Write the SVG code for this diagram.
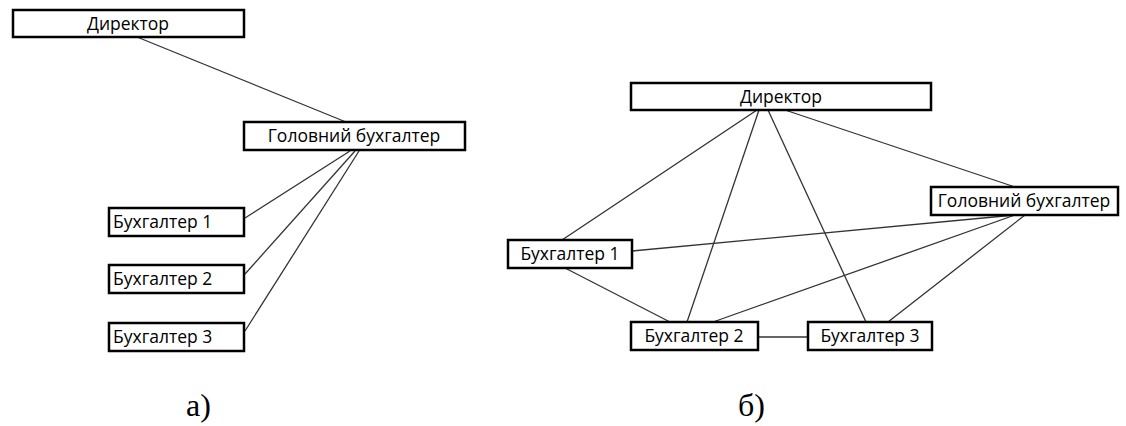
<svg xmlns="http://www.w3.org/2000/svg" width="1126" height="426" viewBox="0 0 1126 426">
<style>
.box{fill:#fff;stroke:#000;stroke-width:2.5}
.t{font-family:"Open Sans","Liberation Sans",sans-serif;font-size:17.5px;fill:#000}
.c{text-anchor:middle}
.edge{stroke:#333;stroke-width:1.3;fill:none}
.lab{font-family:"Liberation Serif",serif;font-size:32px;fill:#000}
</style>
<rect width="1126" height="426" fill="#fff"/>
<g id="connectors">
<line class="edge" x1="137" y1="37" x2="346" y2="122"/>
<line class="edge" x1="350" y1="151" x2="245" y2="218"/>
<line class="edge" x1="355" y1="151" x2="245" y2="274"/>
<line class="edge" x1="359" y1="151" x2="245" y2="331"/>
<line class="edge" x1="757" y1="110" x2="562" y2="240"/>
<line class="edge" x1="759" y1="110" x2="687" y2="322"/>
<line class="edge" x1="768" y1="110" x2="866" y2="322"/>
<line class="edge" x1="785" y1="110" x2="1015" y2="187"/>
<line class="edge" x1="1015" y1="215" x2="632" y2="251"/>
<line class="edge" x1="1015" y1="215" x2="713" y2="322"/>
<line class="edge" x1="1025" y1="215" x2="888" y2="322"/>
<line class="edge" x1="565" y1="268" x2="670" y2="322"/>
<line class="edge" x1="758" y1="337" x2="808" y2="337"/>
</g>
<g id="a-director"><rect class="box" x="13" y="10" width="231" height="27"/><text class="t c" x="128" y="30">Директор</text></g>
<g id="a-chief"><rect class="box" x="244" y="122" width="221" height="28"/><text class="t c" x="354" y="142">Головний бухгалтер</text></g>
<g id="a-acc1"><rect class="box" x="109" y="208" width="135" height="28"/><text class="t" x="113" y="228">Бухгалтер 1</text></g>
<g id="a-acc2"><rect class="box" x="109" y="265" width="135" height="28"/><text class="t" x="113" y="285">Бухгалтер 2</text></g>
<g id="a-acc3"><rect class="box" x="109" y="323" width="135" height="28"/><text class="t" x="113" y="343">Бухгалтер 3</text></g>
<g id="b-director"><rect class="box" x="631" y="83" width="300" height="27"/><text class="t c" x="781" y="103">Директор</text></g>
<g id="b-chief"><rect class="box" x="931" y="187" width="187" height="28"/><text class="t c" x="1024" y="207">Головний бухгалтер</text></g>
<g id="b-acc1"><rect class="box" x="508" y="240" width="124" height="28"/><text class="t c" x="570" y="260">Бухгалтер 1</text></g>
<g id="b-acc2"><rect class="box" x="631" y="322" width="127" height="28"/><text class="t c" x="694" y="342">Бухгалтер 2</text></g>
<g id="b-acc3"><rect class="box" x="808" y="322" width="124" height="28"/><text class="t c" x="870" y="342">Бухгалтер 3</text></g>
<text class="lab" x="186" y="416">а)</text>
<text class="lab" x="738" y="416">б)</text>
</svg>
